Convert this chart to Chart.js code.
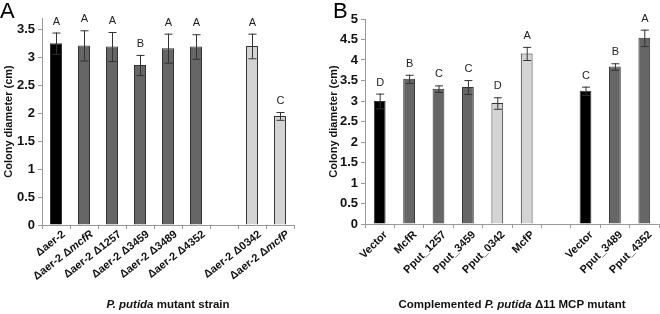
<!DOCTYPE html>
<html>
<head>
<meta charset="utf-8">
<script src="https://cdn.jsdelivr.net/npm/chart.js@4/dist/chart.umd.min.js"></script>
<style>
  body { margin: 0; background: #fff; }
  .wrap { position: absolute; top: 0; height: 314px; }
</style>
</head>
<body>
<div class="wrap" style="left:0;width:300px"><canvas id="chartA"></canvas></div>
<div class="wrap" style="left:327px;width:333px"><canvas id="chartB"></canvas></div>
<script>
// Panel A: colony diameter of P. putida mutants
const catsA = ['Δaer-2', 'Δaer-2 ΔmcfR', 'Δaer-2 Δ1257', 'Δaer-2 Δ3459', 'Δaer-2 Δ3489', 'Δaer-2 Δ4352', '', 'Δaer-2 Δ0342', 'Δaer-2 ΔmcfP'];
const valsA = [3.25, 3.21, 3.19, 2.86, 3.16, 3.19, null, 3.20, 1.95];
const errA = [0.19, 0.27, 0.26, 0.18, 0.26, 0.22, null, 0.22, 0.07];
const sigA = ['A', 'A', 'A', 'B', 'A', 'A', '', 'A', 'C'];
const groupA = ['ctrl', 'mcp', 'mcp', 'mcp', 'mcp', 'mcp', '', 'other', 'other'];
const ticksA = [0, 0.5, 1, 1.5, 2, 2.5, 3, 3.5];

// Panel B: complemented mutant
const catsB = ['Vector', 'McfR', 'Pput_1257', 'Pput_3459', 'Pput_0342', 'McfP', '', 'Vector', 'Pput_3489', 'Pput_4352'];
const valsB = [3.00, 3.54, 3.30, 3.34, 2.95, 4.16, null, 3.25, 3.84, 4.54];
const errB = [0.18, 0.10, 0.08, 0.17, 0.14, 0.16, null, 0.10, 0.08, 0.20];
const sigB = ['D', 'B', 'C', 'C', 'D', 'A', '', 'C', 'B', 'A'];
const groupB = ['ctrl', 'mcp', 'mcp', 'mcp', 'other', 'other', '', 'ctrl', 'mcp', 'mcp'];
const ticksB = [0, 0.5, 1, 1.5, 2, 2.5, 3, 3.5, 4, 4.5, 5];

const italicWords = ['ΔmcfR', 'ΔmcfP'];
const fill = { ctrl: '#000000', mcp: '#666666', other: '#d4d4d4' };
const FONT = '"Liberation Sans", Arial, sans-serif';

// draws a list of [text, italic] pieces around the origin
function drawPieces(ctx, pieces, size, align) {
  const fonts = pieces.map(p => (p[1] ? 'italic ' : '') + 'bold ' + size + 'px ' + FONT);
  let total = 0;
  pieces.forEach((p, i) => { ctx.font = fonts[i]; total += ctx.measureText(p[0]).width; });
  let x = align === 'right' ? -total : -total / 2;
  ctx.textAlign = 'left';
  pieces.forEach((p, i) => { ctx.font = fonts[i]; ctx.fillText(p[0], x, 0); x += ctx.measureText(p[0]).width; });
}

function labelPieces(label) {
  const words = label.split(' ');
  const out = [];
  words.forEach((w, i) => {
    const sep = i < words.length - 1 ? ' ' : '';
    if (italicWords.includes(w)) { out.push(['Δ', false]); out.push([w.slice(1), true]); out.push([sep, false]); }
    else out.push([w + sep, false]);
  });
  return out;
}

const extras = {
  id: 'extras',
  afterDatasetsDraw(chart, args, o) {
    const ctx = chart.ctx, x = chart.scales.x, y = chart.scales.y;
    ctx.save();
    // error bars and letters
    o.vals.forEach((v, i) => {
      if (v == null) return;
      const px = x.getPixelForValue(i);
      const top = y.getPixelForValue(v + o.err[i]), bot = y.getPixelForValue(v - o.err[i]);
      ctx.strokeStyle = '#333';
      ctx.lineWidth = 1;
      ctx.beginPath();
      ctx.moveTo(px + 0.5, top); ctx.lineTo(px + 0.5, bot);
      ctx.moveTo(px - 3.5, top + 0.5); ctx.lineTo(px + 4.5, top + 0.5);
      ctx.moveTo(px - 3.5, bot + 0.5); ctx.lineTo(px + 4.5, bot + 0.5);
      ctx.stroke();
      ctx.fillStyle = '#222';
      ctx.font = '11px ' + FONT;
      ctx.textAlign = 'center';
      ctx.textBaseline = 'middle';
      ctx.fillText(o.sig[i], px + 0.5, top - 11);
    });
    // rotated category labels
    ctx.fillStyle = '#111';
    ctx.textBaseline = 'middle';
    o.cats.forEach((c, i) => {
      if (!c) return;
      const px = x.getPixelForValue(i);
      ctx.save();
      ctx.translate(px + o.lx, x.top + o.ly);
      ctx.rotate(-o.rot * Math.PI / 180);
      drawPieces(ctx, labelPieces(c), 11, 'right');
      ctx.restore();
    });
    // axis title
    ctx.save();
    ctx.translate((chart.chartArea.left + chart.chartArea.right) / 2, o.titleY);
    ctx.fillStyle = '#111';
    ctx.textBaseline = 'middle';
    drawPieces(ctx, o.title, 11.5, 'center');
    ctx.restore();
    // panel letter
    ctx.fillStyle = '#000';
    ctx.font = '22px ' + FONT;
    ctx.textAlign = 'left';
    ctx.textBaseline = 'top';
    ctx.fillText(o.panel, o.panelX, 1);
    ctx.restore();
  }
};

function makeChart(id, cats, vals, err, sig, group, ticks, opt) {
  return new Chart(document.getElementById(id), {
    type: 'bar',
    data: {
      labels: cats,
      datasets: [{
        data: vals,
        backgroundColor: group.map(g => fill[g] || '#fff'),
        borderColor: '#333',
        borderWidth: 1,
        barPercentage: opt.barPct,
        categoryPercentage: 1
      }]
    },
    options: {
      responsive: true,
      maintainAspectRatio: false,
      animation: false,
      layout: { padding: opt.padding },
      plugins: {
        legend: { display: false },
        tooltip: { enabled: false },
        extras: { vals, err, sig, cats, lx: opt.lx, ly: opt.ly, rot: opt.rot, title: opt.title, titleY: 305, panel: opt.panel, panelX: opt.panelX }
      },
      scales: {
        x: {
          ticks: { display: false },
          grid: { drawOnChartArea: false, tickLength: 4, color: '#999' },
          border: { color: '#999' },
          afterFit(s) { s.height = opt.xh; }
        },
        y: {
          min: 0,
          max: opt.max,
          afterBuildTicks(s) { s.ticks = ticks.map(v => ({ value: v })); },
          ticks: {
            color: '#111',
            padding: 3,
            font: { family: FONT, size: 13, weight: 'bold' },
            callback: v => String(v)
          },
          grid: { drawOnChartArea: false, tickLength: 4, color: '#999' },
          border: { color: '#999' },
          title: {
            display: true,
            text: 'Colony diameter (cm)',
            color: '#111',
            padding: { top: opt.tpad, bottom: 0 },
            font: { family: FONT, size: 11, weight: 'bold' }
          },
          afterFit(s) { s.width = opt.yw; }
        }
      }
    },
    plugins: [extras]
  });
}

makeChart('chartA', catsA, valsA, errA, sigA, groupA, ticksA, {
  max: 3.7, barPct: 0.43, padding: { top: 18, right: 6, left: 0, bottom: 0 }, xh: 89, yw: 42, tpad: 2,
  lx: 8, ly: 8, rot: 38, panel: 'A', panelX: 0,
  title: [['P. putida', true], [' mutant strain', false]]
});

makeChart('chartB', catsB, valsB, errB, sigB, groupB, ticksB, {
  max: 5, barPct: 0.4, padding: { top: 19, right: 1, left: 0, bottom: 0 }, xh: 90, yw: 38, tpad: 0,
  lx: 6, ly: 9, rot: 45, panel: 'B', panelX: 6,
  title: [['Complemented ', false], ['P. putida', true], [' Δ11 MCP mutant', false]]
});
</script>
</body>
</html>
